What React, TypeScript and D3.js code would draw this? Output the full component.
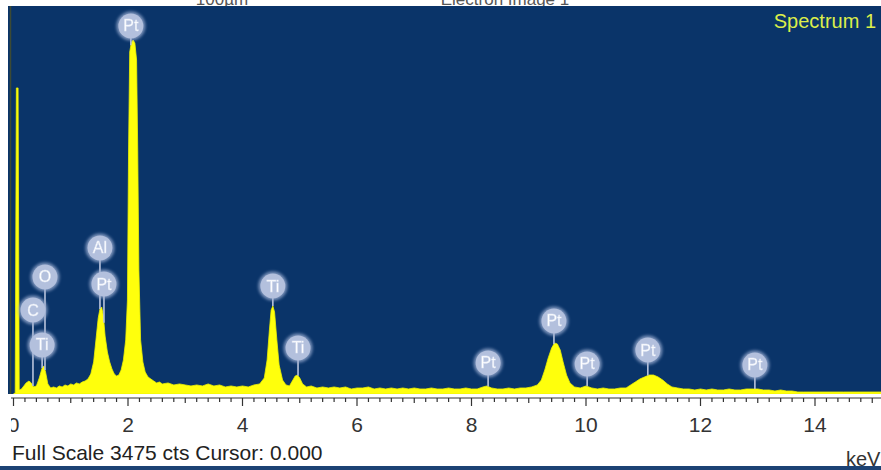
import React from "react";
import * as d3 from "d3";

// EDS spectrum: energy (keV) and counts per point
const energies = [
  0.0, 0.03, 0.05, 0.08, 0.1, 0.14, 0.18, 0.22, 0.27, 0.31, 0.35, 0.4, 0.45, 0.5, 0.53, 0.56, 0.6, 0.65, 0.7, 0.75,
  0.8, 0.85, 0.9, 0.95, 1.0, 1.05, 1.1, 1.15, 1.2, 1.25, 1.3, 1.35, 1.4, 1.44, 1.48, 1.51, 1.54, 1.57, 1.6, 1.64,
  1.68, 1.72, 1.76, 1.8, 1.84, 1.88, 1.92, 1.96, 1.99, 2.01, 2.03, 2.06, 2.09, 2.12, 2.15, 2.17, 2.19, 2.22, 2.26, 2.3,
  2.35, 2.4, 2.45, 2.5, 2.55, 2.6, 2.7, 2.8, 2.9, 3.0, 3.1, 3.2, 3.3, 3.4, 3.5, 3.6, 3.7, 3.8, 3.9, 4.0,
  4.1, 4.2, 4.3, 4.38, 4.43, 4.47, 4.5, 4.53, 4.56, 4.6, 4.64, 4.7, 4.76, 4.82, 4.88, 4.92, 4.96, 5.0, 5.05, 5.12,
  5.2, 5.3, 5.4, 5.5, 5.6, 5.7, 5.8, 5.9, 6.0, 6.1, 6.2, 6.3, 6.4, 6.5, 6.6, 6.7, 6.8, 6.9, 7.0, 7.1,
  7.2, 7.3, 7.4, 7.5, 7.6, 7.7, 7.8, 7.9, 8.0, 8.1, 8.2, 8.27, 8.35, 8.45, 8.55, 8.65, 8.75, 8.85, 8.95, 9.05,
  9.15, 9.22, 9.28, 9.34, 9.4, 9.45, 9.5, 9.55, 9.6, 9.66, 9.72, 9.8, 9.9, 10.0, 10.1, 10.2, 10.3, 10.4, 10.5, 10.6,
  10.7, 10.78, 10.86, 10.94, 11.02, 11.1, 11.18, 11.26, 11.34, 11.42, 11.5, 11.6, 11.7, 11.8, 11.9, 12.0, 12.1, 12.2, 12.3, 12.4,
  12.5, 12.6, 12.7, 12.8, 12.9, 13.0, 13.1, 13.2, 13.3, 13.4, 13.5, 13.6, 13.7, 13.8, 14.0, 14.5, 15.2,
];
const counts = [
  0, 9, 2741, 2741, 36, 45, 72, 99, 116, 99, 63, 72, 143, 233, 251, 197, 90, 54, 63, 54,
  72, 63, 81, 72, 90, 81, 99, 90, 107, 116, 134, 179, 287, 484, 681, 761, 779, 699, 519, 376,
  287, 224, 179, 161, 170, 215, 305, 484, 842, 2185, 3063, 3153, 3170, 3144, 2991, 2185, 1110, 484, 287, 197,
  152, 134, 116, 99, 107, 90, 99, 81, 90, 81, 72, 81, 72, 90, 72, 81, 63, 72, 63, 72,
  63, 81, 90, 143, 305, 573, 752, 788, 734, 484, 260, 125, 81, 72, 125, 161, 170, 143, 90, 63,
  72, 54, 63, 54, 63, 54, 63, 45, 54, 54, 63, 45, 54, 45, 54, 45, 54, 45, 54, 45,
  45, 54, 45, 45, 54, 45, 45, 54, 45, 45, 63, 72, 54, 45, 45, 54, 45, 54, 54, 63,
  81, 125, 215, 323, 412, 457, 448, 394, 287, 170, 99, 63, 54, 72, 54, 45, 54, 45, 45, 54,
  54, 81, 107, 134, 152, 170, 170, 152, 125, 90, 63, 54, 45, 45, 36, 45, 36, 45, 36, 36,
  45, 36, 36, 45, 45, 45, 36, 36, 27, 36, 27, 27, 18, 18, 18, 18, 18,
];

// Peak identification markers
const markerNames = ["Pt", "Al", "Pt", "O", "C", "Ti", "Ti", "Ti", "Pt", "Pt", "Pt", "Pt", "Pt"];
const markerEnergies = [2.05, 1.51, 1.58, 0.55, 0.34, 0.5, 4.53, 4.97, 8.29, 9.44, 10.02, 11.08, 12.95];
const markerCounts = [3296, 1308, 985, 1048, 752, 439, 967, 412, 278, 654, 269, 394, 260];

const tickLabels = [0, 2, 4, 6, 8, 10, 12, 14];
const fullScale = 3475;
const cursorValue = 0;

const W = 881;
const H = 470;
const plot = { left: 8, right: 881, top: 6, bottom: 394 };
const axisY = 398;

export default function App() {
  const x = d3.scaleLinear().domain([0, 14]).range([13.5, 815]);
  const y = d3.scaleLinear().domain([0, fullScale]).range([plot.bottom, plot.top]);

  const pts = energies.map((e, i) => [e, counts[i]] as [number, number]);
  const area = d3
    .area<[number, number]>()
    .x((d) => x(d[0]))
    .y0(plot.bottom)
    .y1((d) => y(d[1]))
    .curve(d3.curveLinear);

  const countAt = (e: number) => {
    const i = d3.bisectLeft(energies, e);
    if (i <= 0) return counts[0];
    if (i >= energies.length) return counts[counts.length - 1];
    const e0 = energies[i - 1], e1 = energies[i];
    const t = (e - e0) / (e1 - e0);
    return counts[i - 1] + t * (counts[i] - counts[i - 1]);
  };

  const minorTicks = d3.range(0, 76).map((i) => ({ v: i * 0.2, k: i % 10 === 0 ? 2 : i % 5 === 0 ? 1 : 0 }));
  const r = 13;
  const font = "'Liberation Sans', Arial, sans-serif";

  return (
    <div style={{ position: "absolute", left: 0, top: 0, width: W, height: H }}>
      <svg width={W} height={H} viewBox={`0 0 ${W} ${H}`} style={{ display: "block", background: "#ffffff" }}>
        <defs>
          <clipPath id="plotClip">
            <rect x={plot.left} y={plot.top} width={plot.right - plot.left} height={plot.bottom - plot.top} />
          </clipPath>
          <clipPath id="axisClip">
            <rect x={11} y={plot.bottom} width={W - 11} height={H - plot.bottom} />
          </clipPath>
          <filter id="soft" x="-50%" y="-50%" width="200%" height="200%">
            <feGaussianBlur stdDeviation="1.6" />
          </filter>
          <filter id="softText" x="-20%" y="-20%" width="140%" height="140%">
            <feGaussianBlur stdDeviation="0.35" />
          </filter>
        </defs>

        {/* image header captions, cut by the spectrum panel */}
        <text x={222} y={5} fontFamily={font} fontSize={17} fill="#555" textAnchor="middle">
          100µm
        </text>
        <text x={505} y={5} fontFamily={font} fontSize={17} fill="#555" textAnchor="middle">
          Electron Image 1
        </text>

        {/* spectrum panel */}
        <rect x={plot.left} y={plot.top} width={plot.right - plot.left} height={plot.bottom - plot.top} fill="#0a3469" />
        <line x1={10.5} x2={10.5} y1={plot.top} y2={plot.bottom} stroke="#3c4a34" strokeWidth={1.5} />

        <g clipPath="url(#plotClip)">
          <path d={area(pts) ?? ""} fill="#ffff0c" stroke="#eef200" strokeWidth={0.8} />
        </g>

        {/* marker stems */}
        <g>
          {markerNames.map((n, i) => {
            const cx = x(markerEnergies[i]);
            const cy = y(markerCounts[i]);
            const yEnd = y(countAt(markerEnergies[i]));
            return (
              <line key={`s${i}`} x1={cx} x2={cx} y1={cy + r - 1} y2={yEnd} stroke="#b9c4dc" strokeWidth={1.6} />
            );
          })}
        </g>

        {/* marker badges */}
        <g>
          {markerNames.map((n, i) => {
            const cx = x(markerEnergies[i]);
            const cy = y(markerCounts[i]);
            return (
              <g key={`m${i}`}>
                <circle cx={cx} cy={cy} r={r + 1.5} fill="#9fb0d4" opacity={0.75} filter="url(#soft)" />
                <circle cx={cx} cy={cy} r={r - 0.5} fill="#b3c0dd" />
                <text
                  x={cx}
                  y={cy + 5.5}
                  textAnchor="middle"
                  fontFamily={font}
                  fontSize={16}
                  fill="#ffffff"
                  stroke="#dfe6f4"
                  strokeWidth={0.4}
                  filter="url(#softText)"
                >
                  {n}
                </text>
              </g>
            );
          })}
        </g>

        <text x={876} y={28} textAnchor="end" fontFamily={font} fontSize={20} fill="#dcee4a">
          Spectrum 1
        </text>

        {/* energy axis */}
        <g clipPath="url(#axisClip)">
          <line x1={plot.left} x2={W} y1={axisY} y2={axisY} stroke="#333" strokeWidth={1} />
          {minorTicks.map((t, i) => (
            <line
              key={`t${i}`}
              x1={x(t.v)}
              x2={x(t.v)}
              y1={axisY}
              y2={axisY + (t.k === 2 ? 8 : t.k === 1 ? 5 : 4)}
              stroke="#333"
              strokeWidth={1.2}
            />
          ))}
          {tickLabels.map((v) => (
            <text key={`l${v}`} x={x(v)} y={432} textAnchor="middle" fontFamily={font} fontSize={21} fill="#333">
              {v}
            </text>
          ))}
        </g>

        <text x={12} y={460} fontFamily={font} fontSize={21} fill="#222">
          {`Full Scale ${fullScale} cts Cursor: ${cursorValue.toFixed(3)}`}
        </text>
        <text x={846} y={466} fontFamily={font} fontSize={20} fill="#333">
          keV
        </text>

        <rect x={0} y={466} width={W} height={4} fill="#1c4274" />
      </svg>
    </div>
  );
}
